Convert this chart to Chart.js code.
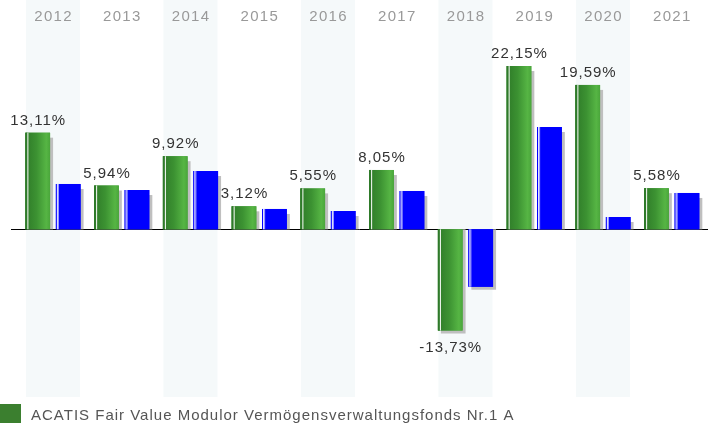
<!DOCTYPE html>
<html>
<head>
<meta charset="utf-8">
<script src="https://cdn.jsdelivr.net/npm/chart.js@4/dist/chart.umd.min.js"></script>
<style>
html,body{margin:0;padding:0;background:#fff;}
#wrap{position:relative;width:708px;height:423px;}
</style>
</head>
<body>
<div id="wrap"><canvas id="c" width="708" height="423"></canvas></div>
<script>
const years = ['2012','2013','2014','2015','2016','2017','2018','2019','2020','2021'];
const fundValues = [13.11, 5.94, 9.92, 3.12, 5.55, 8.05, -13.73, 22.15, 19.59, 5.58];
const benchmarkValues = [6.15, 5.33, 7.91, 2.76, 2.48, 5.20, -7.79, 13.88, 1.67, 4.93];
const fundName = 'ACATIS Fair Value Modulor Vermögensverwaltungsfonds Nr.1 A';
const benchmarkName = 'Vergleichsgruppe';

const FONT = '"Liberation Sans", Arial, sans-serif';

function fmt(v){ return v.toFixed(2).replace('.', ',') + '%'; }

function barBox(el){
  const p = el.getProps(['x','y','base','width'], true);
  return { left: p.x - p.width/2, width: p.width, y: p.y, base: p.base, x: p.x };
}

const decor = {
  id: 'decor',
  beforeDatasetsDraw(chart){
    const ctx = chart.ctx, xs = chart.scales.x, ys = chart.scales.y;
    const ca = chart.chartArea;
    const step = xs.getPixelForValue(1) - xs.getPixelForValue(0);
    ctx.save();
    ctx.fillStyle = '#f5f9fa';
    years.forEach((y,i)=>{
      if(i%2===0){
        const cx = xs.getPixelForValue(i);
        ctx.fillRect(cx - step*0.393, ca.top, step*0.786, ca.bottom - ca.top);
      }
    });
    // year labels
    ctx.fillStyle = '#999999';
    ctx.font = '15px ' + FONT;
    ctx.letterSpacing = '1.3px';
    ctx.textAlign = 'center';
    ctx.textBaseline = 'middle';
    years.forEach((y,i)=>{
      ctx.fillText(y, xs.getPixelForValue(i) + 0.6, 17);
    });
    // zero line
    const y0 = Math.round(ys.getPixelForValue(0)) + 0.5;
    ctx.strokeStyle = '#000';
    ctx.lineWidth = 1;
    ctx.beginPath();
    ctx.moveTo(11, y0);
    ctx.lineTo(chart.width, y0);
    ctx.stroke();
    // shadows
    ctx.fillStyle = '#bfbfbf';
    chart.data.datasets.forEach((ds, di)=>{
      chart.getDatasetMeta(di).data.forEach(el=>{
        const b = barBox(el);
        if(b.y <= b.base){
          ctx.fillRect(b.left + 3, b.y + 5, b.width, b.base - b.y - 5);
        } else {
          ctx.fillRect(b.left + 3, b.base, b.width, b.y - b.base + 3);
        }
      });
    });
    ctx.restore();
  },
  afterDatasetDraw(chart, args){
    const ctx = chart.ctx;
    ctx.save();
    args.meta.data.forEach(el=>{
      const b = barBox(el);
      const left = b.left;
      const top = Math.min(b.y, b.base);
      const h = Math.abs(b.base - b.y);
      if(args.index === 0){
        const g = ctx.createLinearGradient(left, 0, left + b.width, 0);
        g.addColorStop(0, '#2e7a28');
        g.addColorStop(0.45, '#3c9232');
        g.addColorStop(0.85, '#56b544');
        g.addColorStop(1, '#4aa63b');
        ctx.fillStyle = g;
        ctx.fillRect(left, top, b.width, h);
        ctx.fillStyle = '#2f7a2a';
        ctx.fillRect(left, top, 2, h);
        ctx.fillStyle = '#ffffff';
        ctx.fillRect(left + 2, top, 1, h);
      } else {
        ctx.fillStyle = '#0000ff';
        ctx.fillRect(left, top, b.width, h);
        ctx.fillStyle = '#ffffff';
        ctx.fillRect(left + 1, top, 1, h);
        ctx.fillStyle = '#a8a8ff';
        ctx.fillRect(left + 2, top, 1, h);
      }
    });
    ctx.restore();
  },
  afterDatasetsDraw(chart){
    const ctx = chart.ctx;
    const meta = chart.getDatasetMeta(0);
    ctx.save();
    ctx.fillStyle = '#333333';
    ctx.font = '15px ' + FONT;
    ctx.letterSpacing = '1px';
    ctx.textAlign = 'center';
    ctx.textBaseline = 'alphabetic';
    meta.data.forEach((el,i)=>{
      const p = el.getProps(['x','y','base'], true);
      const v = fundValues[i];
      if(v >= 0) ctx.fillText(fmt(v), p.x + 0.5, p.y - 8);
      else ctx.fillText(fmt(v), p.x + 0.5, p.y + 21);
    });
    // legend
    ctx.fillStyle = '#3b7f2f';
    ctx.fillRect(0, 404, 21, 19);
    ctx.fillStyle = '#555555';
    ctx.textAlign = 'left';
    ctx.font = '15px ' + FONT;
    ctx.letterSpacing = '1px';
    ctx.fillText(fundName, 31, 419.5);
    ctx.restore();
  }
};

new Chart(document.getElementById('c'), {
  type: 'bar',
  data: {
    labels: years,
    datasets: [
      { label: fundName, data: fundValues, backgroundColor: '#3f9a33', borderWidth: 0 },
      { label: benchmarkName, data: benchmarkValues, backgroundColor: '#0000ff', borderWidth: 0 }
    ]
  },
  options: {
    responsive: false,
    animation: false,
    events: [],
    categoryPercentage: 0.887,
    barPercentage: 0.81,
    layout: { padding: { left: 18.6, right: 1.9, top: 0, bottom: 26 } },
    plugins: { legend: { display: false }, tooltip: { enabled: false } },
    scales: {
      x: { display: false },
      y: { display: false, min: -22.75, max: 31.11 }
    }
  },
  plugins: [decor]
});
</script>
</body>
</html>
